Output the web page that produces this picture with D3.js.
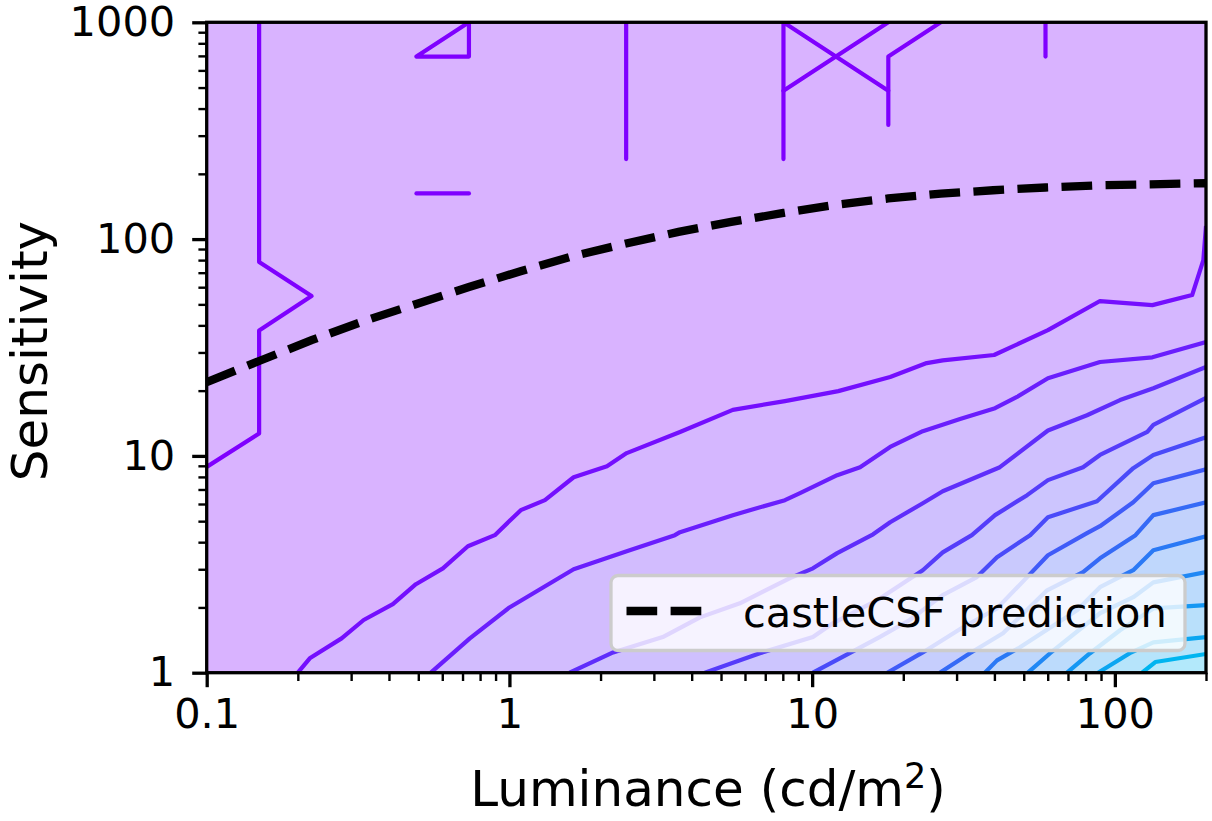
<!DOCTYPE html>
<html><head><meta charset="utf-8">
<script src="https://cdn.jsdelivr.net/npm/d3@7"></script>
<style>html,body{margin:0;padding:0;background:#fff}svg{display:block}text{font-family:"DejaVu Sans";fill:#000}</style>
</head><body><svg id="c" width="1212" height="821"></svg>
<script>
const xMajor=[0.1,1,10,100];
const yMajor=[1,10,100,1000];
const xLabels=["0.1","1","10","100"];
const yLabels=["1","10","100","1000"];
const legendLabel="castleCSF prediction";
const prediction=[[0.1,21.9],[0.149,27.4],[0.222,34.2],[0.331,41.9],[0.493,50.2],[0.735,60.1],[1.095,71.3],[1.63,83.6],[2.43,95.4],[3.62,108],[5.4,120],[8.04,132],[11.98,144],[17.85,154],[26.6,162],[39.6,168],[59,173],[88,177],[131,179],[200,181]];
// noisy lowest-level contour fragments
const noise=[
 [[0.1,8.9],[0.149,12.7],[0.149,37.9],[0.222,54.6],[0.149,78.5],[0.149,1000]],
 [[0.493,695],[0.735,1000],[0.735,695],[0.493,695]],
 [[0.493,162.4],[0.735,162.4]],
 [[2.43,1000],[2.43,234]],
 [[8.04,234],[8.04,1000],[17.85,483],[17.85,336]],
 [[8.04,483],[11.98,695],[17.85,1000]],
 [[17.85,483],[17.85,695],[26.6,1000]],
 [[59,1000],[59,695]]
];
const L1=[[0.2,1],[0.219,1.165],[0.279,1.44],[0.33,1.75],[0.412,2.07],[0.491,2.56],[0.603,3.03],[0.729,3.83],[0.895,4.31],[1.09,5.62],[1.31,6.25],[1.63,7.97],[2.1,8.96],[2.44,10.3],[3.66,12.9],[5.47,16.3],[8.13,17.9],[12.2,19.9],[18.1,23.1],[23.9,26.8],[27,27.6],[39.9,29.2],[60.1,38],[89.3,51.8],[133,49.6],[180,55.2],[196,80],[200,115]];
const L2=[[0.55,1],[0.74,1.44],[1,2],[1.63,3],[2.44,3.63],[3.52,4.31],[3.66,4.45],[5.47,5.33],[8.13,6.25],[9.12,6.73],[12.1,8.15],[14.4,8.87],[18.1,11],[23.2,13],[30.8,14.8],[40.2,16.6],[47.5,18.7],[60.1,22.8],[89.3,27.1],[133,28.5],[200,33.5]];
const L3=[[1.58,1],[2.2,1.24],[3.21,1.46],[4.26,1.8],[5.77,2.09],[8.45,2.73],[10.06,3.03],[12.1,3.56],[15.9,4.35],[18.1,4.94],[23.2,6.05],[27,6.87],[41.7,8.87],[60.1,13.1],[80.9,15.4],[104,18.1],[134,20.5],[200,25.7]];
const L4=[[4.42,1],[6.72,1.23],[10.06,1.46],[11.7,1.69],[16.4,2.16],[23.2,2.97],[27,3.59],[33.7,4.31],[40.2,5.33],[51.3,6.59],[60.1,7.73],[78.5,8.87],[89.3,10.1],[128,12.9],[134,13.9],[200,18.5]];
const L5=[[10.06,1],[13.3,1.23],[16.7,1.46],[21,1.75],[27,2.28],[35,2.76],[40.8,3.41],[52.5,4.31],[60.1,5.21],[87.3,6.18],[115,8.78],[134,10.1],[200,12.2]];
const L6=[[17.7,1],[23.2,1.24],[31.5,1.62],[40.8,1.98],[51.3,2.76],[60.1,3.48],[80.9,4.4],[89.3,4.74],[115,6.11],[134,7.48],[200,8.68]];
const L7=[[26.4,1],[33.2,1.23],[42.7,1.52],[59.7,2.4],[78.5,2.91],[89.3,3.37],[117,4.31],[134,5.33],[200,6.11]];
const L8=[[37.2,1],[40.8,1.14],[48.6,1.31],[75,1.94],[89.3,2.48],[115,2.97],[134,3.67],[200,4.26]];
const L9=[[51.6,1],[61.1,1.23],[89.3,1.88],[115,2.23],[134,2.61],[200,2.91]];
const L10=[[69.5,1],[82.8,1.23],[104,1.57],[134,1.98],[200,2.05]];
const L11=[[88,1],[112,1.23],[134,1.38],[200,1.46]];
const L12=[[123,1],[136,1.12],[200,1.22]];
const contours=[L1,L2,L3,L4,L5,L6,L7,L8,L9,L10,L11,L12];

const svg=d3.select("#c");
const x=d3.scaleLog().domain([0.1,200]).range([206.7,1206]);
const y=d3.scaleLog().domain([1,1000]).range([672.7,22.3]);
const lineColor=d3.scaleLinear().domain([0,12]).range(["#7f00ff","#00b5f0"]).interpolate(d3.interpolateRgb);
const fillColor=i=>{const c=d3.rgb(lineColor(i));const a=0.3;return d3.rgb(255-(255-c.r)*a,255-(255-c.g)*a,255-(255-c.b)*a).formatHex();};
const line=d3.line().x(d=>x(d[0])).y(d=>y(d[1]));
svg.append("defs").append("clipPath").attr("id","plot").append("rect")
 .attr("x",206.7).attr("y",22.3).attr("width",999.3).attr("height",650.4);
const g=svg.append("g").attr("clip-path","url(#plot)");
g.append("rect").attr("x",206.7).attr("y",22.3).attr("width",999.3).attr("height",650.4).attr("fill",fillColor(0));
contours.forEach((c,i)=>{
 g.append("path").attr("d",line(c.concat([[200,1]]))+"Z").attr("fill",fillColor(i+1));
});
noise.forEach(c=>g.append("path").attr("d",line(c)).attr("fill","none").attr("stroke",lineColor(0)).attr("stroke-width",4.2).attr("stroke-linejoin","round").attr("stroke-linecap","round"));
contours.forEach((c,i)=>g.append("path").attr("d",line(c)).attr("fill","none").attr("stroke",lineColor(i+1)).attr("stroke-width",4.2).attr("stroke-linejoin","round"));
g.append("path").attr("d",line(prediction)).attr("fill","none").attr("stroke","#000").attr("stroke-width",8.3).attr("stroke-dasharray","30.7 13.4");

// axes
const minor=(lo,hi)=>{const o=[];for(let d=lo;d<hi;d*=10)for(let k=2;k<=9;k++){if(d*k<=hi)o.push(d*k);}return o;};
const xMinor=minor(0.1,200).concat([200]).filter((v,i,a)=>a.indexOf(v)===i&&!xMajor.some(m=>Math.abs(m-v)<1e-9));
const yMinor=minor(1,1000).filter(v=>!yMajor.includes(v));
function styleAxis(a,w){a.select(".domain").remove();a.selectAll("line").attr("stroke","#000").attr("stroke-width",w);}
const gx=svg.append("g").attr("transform","translate(0,672.7)");
const gy=svg.append("g").attr("transform","translate(206.7,0)");
gx.append("g").call(d3.axisBottom(x).tickValues(xMinor).tickSize(8.3).tickFormat("")).call(a=>styleAxis(a,2.4));
gy.append("g").call(d3.axisLeft(y).tickValues(yMinor).tickSize(8.3).tickFormat("")).call(a=>styleAxis(a,2.4));
const xa=gx.append("g").call(d3.axisBottom(x).tickValues(xMajor).tickSize(14.5).tickPadding(11).tickFormat((d,i)=>xLabels[i])).call(a=>styleAxis(a,3.3));
const ya=gy.append("g").call(d3.axisLeft(y).tickValues(yMajor).tickSize(14.5).tickPadding(17).tickFormat((d,i)=>yLabels[i])).call(a=>styleAxis(a,3.3));
xa.selectAll("text").attr("font-size",41.5).attr("font-family","DejaVu Sans");
ya.selectAll("text").attr("font-size",41.5).attr("font-family","DejaVu Sans");
svg.append("rect").attr("x",206.7).attr("y",22.3).attr("width",999.3).attr("height",650.4).attr("fill","none").attr("stroke","#000").attr("stroke-width",3.3);

// titles
const xt=svg.append("text").attr("x",708).attr("y",806).attr("text-anchor","middle").attr("font-size",50);
xt.append("tspan").text("Luminance (cd/m");
xt.append("tspan").text("2").attr("font-size",35).attr("dy",-18);
xt.append("tspan").text(")").attr("dy",18);
svg.append("text").attr("transform","translate(47,351) rotate(-90)").attr("text-anchor","middle").attr("font-size",50).text("Sensitivity");

// legend
svg.append("rect").attr("x",611).attr("y",575.5).attr("width",574).attr("height",75).attr("rx",7).attr("fill","#fff").attr("fill-opacity",0.8).attr("stroke","#ccc").attr("stroke-width",3.3);
svg.append("line").attr("x1",626.5).attr("x2",702.5).attr("y1",611).attr("y2",611).attr("stroke","#000").attr("stroke-width",8.3).attr("stroke-dasharray","30.7 13.4");
svg.append("text").attr("x",743).attr("y",627).attr("font-size",41.5).text(legendLabel);
</script></body></html>
